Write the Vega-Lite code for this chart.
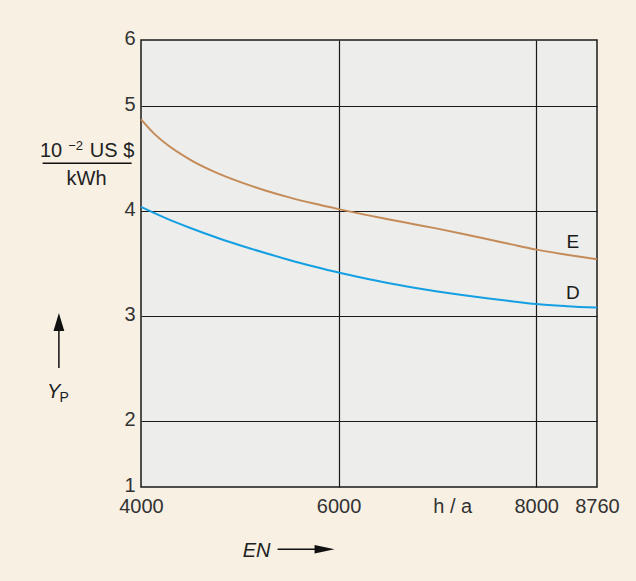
{
  "$schema": "https://vega.github.io/schema/vega-lite/v6.json",
  "width": 456,
  "height": 447,
  "autosize": {"type": "none"},
  "padding": {"left": 141, "top": 40, "right": 39, "bottom": 94},
  "background": "#f7f0e3",
  "config": {
    "view": {"fill": "#edeeeb", "stroke": "#1a1a1a", "strokeWidth": 1.5},
    "font": "Liberation Sans"
  },
  "datasets": {
    "curves": [
      {"en": 4000, "yp": 4.873, "series": "E"},
      {"en": 4125, "yp": 4.744, "series": "E"},
      {"en": 4250, "yp": 4.642, "series": "E"},
      {"en": 4500, "yp": 4.487, "series": "E"},
      {"en": 4750, "yp": 4.37, "series": "E"},
      {"en": 5000, "yp": 4.277, "series": "E"},
      {"en": 5250, "yp": 4.198, "series": "E"},
      {"en": 5500, "yp": 4.13, "series": "E"},
      {"en": 5750, "yp": 4.071, "series": "E"},
      {"en": 6000, "yp": 4.018, "series": "E"},
      {"en": 6250, "yp": 3.968, "series": "E"},
      {"en": 6500, "yp": 3.922, "series": "E"},
      {"en": 6750, "yp": 3.877, "series": "E"},
      {"en": 7000, "yp": 3.832, "series": "E"},
      {"en": 7250, "yp": 3.784, "series": "E"},
      {"en": 7500, "yp": 3.734, "series": "E"},
      {"en": 7750, "yp": 3.682, "series": "E"},
      {"en": 8000, "yp": 3.632, "series": "E"},
      {"en": 8380, "yp": 3.584, "series": "E"},
      {"en": 8760, "yp": 3.54, "series": "E"},
      {"en": 4000, "yp": 4.04, "series": "D"},
      {"en": 4125, "yp": 3.985, "series": "D"},
      {"en": 4250, "yp": 3.932, "series": "D"},
      {"en": 4500, "yp": 3.838, "series": "D"},
      {"en": 4750, "yp": 3.752, "series": "D"},
      {"en": 5000, "yp": 3.674, "series": "D"},
      {"en": 5250, "yp": 3.602, "series": "D"},
      {"en": 5500, "yp": 3.534, "series": "D"},
      {"en": 5750, "yp": 3.472, "series": "D"},
      {"en": 6000, "yp": 3.414, "series": "D"},
      {"en": 6250, "yp": 3.362, "series": "D"},
      {"en": 6500, "yp": 3.314, "series": "D"},
      {"en": 6750, "yp": 3.272, "series": "D"},
      {"en": 7000, "yp": 3.234, "series": "D"},
      {"en": 7250, "yp": 3.2, "series": "D"},
      {"en": 7500, "yp": 3.169, "series": "D"},
      {"en": 7750, "yp": 3.14, "series": "D"},
      {"en": 8000, "yp": 3.114, "series": "D"},
      {"en": 8380, "yp": 3.094, "series": "D"},
      {"en": 8760, "yp": 3.08, "series": "D"}
    ],
    "seriesLabels": [
      {"en": 8457, "yp": 3.648, "t": "E"},
      {"en": 8457, "yp": 3.162, "t": "D"}
    ],
    "normalText": [
      {"en": 3090, "yp": 4.517, "t": "10"},
      {"en": 3707, "yp": 4.517, "t": "US $"},
      {"en": 3449, "yp": 4.248, "t": "kWh"}
    ],
    "supText": [
      {"en": 3338, "yp": 4.585, "t": "−2"}
    ],
    "italicText": [
      {"en": 3117, "yp": 2.216, "t": "Y"},
      {"en": 5170, "yp": -0.061, "t": "EN"}
    ],
    "subText": [
      {"en": 3222, "yp": 2.184, "t": "P"}
    ],
    "rules": [
      {"en": 3004, "en2": 3905, "yp": 4.454, "yp2": 4.454},
      {"en": 3169, "en2": 3169, "yp": 2.505, "yp2": 2.88},
      {"en": 5383, "en2": 5800, "yp": 0.056, "yp2": 0.056}
    ],
    "upHead": [{"en": 3169, "yp": 2.943}],
    "rightHead": [{"en": 5858, "yp": 0.056}]
  },
  "layer": [
    {
      "data": {"name": "curves"},
      "mark": {"type": "line", "strokeWidth": 2, "interpolate": "monotone"},
      "encoding": {
        "x": {
          "field": "en", "type": "quantitative",
          "scale": {"domain": [4000, 6000, 8000, 8760], "range": [0, 197.6, 395.2, 456], "nice": false, "zero": false},
          "axis": {
            "title": null,
            "values": [4000, 6000, 7150, 8000, 8760],
            "format": "d",
            "labelExpr": "datum.value == 7150 ? 'h / a' : datum.label",
            "grid": true,
            "gridColor": "#1a1a1a",
            "gridWidth": 1.2,
            "gridOpacity": {"condition": {"test": "datum.value == 6000 || datum.value == 8000", "value": 1}, "value": 0},
            "ticks": false,
            "tickSize": 0,
            "domain": false,
            "labelFont": "Liberation Sans",
            "labelFontSize": 20,
            "labelColor": "#333333",
            "labelPadding": 9,
            "labelFlush": false,
            "labelOverlap": false,
            "labelBaseline": "top"
          }
        },
        "y": {
          "field": "yp", "type": "quantitative",
          "scale": {"domain": [1, 2, 5, 6], "range": [447, 381, 66, 0], "nice": false, "zero": false},
          "axis": {
            "title": null,
            "values": [1, 2, 3, 4, 5, 6],
            "format": "d",
            "grid": true,
            "gridColor": "#1a1a1a",
            "gridWidth": 1.2,
            "gridOpacity": {"condition": {"test": "datum.value > 1 && datum.value < 6", "value": 1}, "value": 0},
            "ticks": false,
            "tickSize": 0,
            "domain": false,
            "labelFont": "Liberation Sans",
            "labelFontSize": 20,
            "labelColor": "#333333",
            "labelPadding": 6,
            "labelOffset": -1.5,
            "labelBaseline": "middle"
          }
        },
        "color": {
          "field": "series", "type": "nominal",
          "scale": {"domain": ["E", "D"], "range": ["#c48b58", "#139fe2"]},
          "legend": null
        }
      }
    },
    {
      "data": {"name": "seriesLabels"},
      "mark": {"type": "text", "fontSize": 19, "align": "center", "baseline": "alphabetic", "color": "#1a1a1a"},
      "encoding": {
        "x": {"field": "en", "type": "quantitative", "scale": {"domain": [4000, 6000, 8000, 8760], "range": [0, 197.6, 395.2, 456], "nice": false, "zero": false}},
        "y": {"field": "yp", "type": "quantitative", "scale": {"domain": [1, 2, 5, 6], "range": [447, 381, 66, 0], "nice": false, "zero": false}},
        "text": {"field": "t"}
      }
    },
    {
      "data": {"name": "normalText"},
      "mark": {"type": "text", "fontSize": 20, "align": "center", "baseline": "alphabetic", "color": "#222222"},
      "encoding": {
        "x": {"field": "en", "type": "quantitative", "scale": {"domain": [4000, 6000, 8000, 8760], "range": [0, 197.6, 395.2, 456], "nice": false, "zero": false}},
        "y": {"field": "yp", "type": "quantitative", "scale": {"domain": [1, 2, 5, 6], "range": [447, 381, 66, 0], "nice": false, "zero": false}},
        "text": {"field": "t"}
      }
    },
    {
      "data": {"name": "supText"},
      "mark": {"type": "text", "fontSize": 13, "align": "center", "baseline": "alphabetic", "color": "#222222"},
      "encoding": {
        "x": {"field": "en", "type": "quantitative", "scale": {"domain": [4000, 6000, 8000, 8760], "range": [0, 197.6, 395.2, 456], "nice": false, "zero": false}},
        "y": {"field": "yp", "type": "quantitative", "scale": {"domain": [1, 2, 5, 6], "range": [447, 381, 66, 0], "nice": false, "zero": false}},
        "text": {"field": "t"}
      }
    },
    {
      "data": {"name": "italicText"},
      "mark": {"type": "text", "fontSize": 20, "fontStyle": "italic", "align": "center", "baseline": "alphabetic", "color": "#222222"},
      "encoding": {
        "x": {"field": "en", "type": "quantitative", "scale": {"domain": [4000, 6000, 8000, 8760], "range": [0, 197.6, 395.2, 456], "nice": false, "zero": false}},
        "y": {"field": "yp", "type": "quantitative", "scale": {"domain": [1, 2, 5, 6], "range": [447, 381, 66, 0], "nice": false, "zero": false}},
        "text": {"field": "t"}
      }
    },
    {
      "data": {"name": "subText"},
      "mark": {"type": "text", "fontSize": 14, "align": "center", "baseline": "alphabetic", "color": "#222222"},
      "encoding": {
        "x": {"field": "en", "type": "quantitative", "scale": {"domain": [4000, 6000, 8000, 8760], "range": [0, 197.6, 395.2, 456], "nice": false, "zero": false}},
        "y": {"field": "yp", "type": "quantitative", "scale": {"domain": [1, 2, 5, 6], "range": [447, 381, 66, 0], "nice": false, "zero": false}},
        "text": {"field": "t"}
      }
    },
    {
      "data": {"name": "rules"},
      "mark": {"type": "rule", "strokeWidth": 1.5, "color": "#111111"},
      "encoding": {
        "x": {"field": "en", "type": "quantitative", "scale": {"domain": [4000, 6000, 8000, 8760], "range": [0, 197.6, 395.2, 456], "nice": false, "zero": false}},
        "x2": {"field": "en2"},
        "y": {"field": "yp", "type": "quantitative", "scale": {"domain": [1, 2, 5, 6], "range": [447, 381, 66, 0], "nice": false, "zero": false}},
        "y2": {"field": "yp2"}
      }
    },
    {
      "data": {"name": "upHead"},
      "mark": {"type": "point", "shape": "M-0.6,1L0.6,1L0,-1Z", "size": 324, "filled": true, "color": "#111111", "opacity": 1},
      "encoding": {
        "x": {"field": "en", "type": "quantitative", "scale": {"domain": [4000, 6000, 8000, 8760], "range": [0, 197.6, 395.2, 456], "nice": false, "zero": false}},
        "y": {"field": "yp", "type": "quantitative", "scale": {"domain": [1, 2, 5, 6], "range": [447, 381, 66, 0], "nice": false, "zero": false}}
      }
    },
    {
      "data": {"name": "rightHead"},
      "mark": {"type": "point", "shape": "M-1,-0.42L-1,0.42L1,0Z", "size": 400, "filled": true, "color": "#111111", "opacity": 1},
      "encoding": {
        "x": {"field": "en", "type": "quantitative", "scale": {"domain": [4000, 6000, 8000, 8760], "range": [0, 197.6, 395.2, 456], "nice": false, "zero": false}},
        "y": {"field": "yp", "type": "quantitative", "scale": {"domain": [1, 2, 5, 6], "range": [447, 381, 66, 0], "nice": false, "zero": false}}
      }
    }
  ]
}
